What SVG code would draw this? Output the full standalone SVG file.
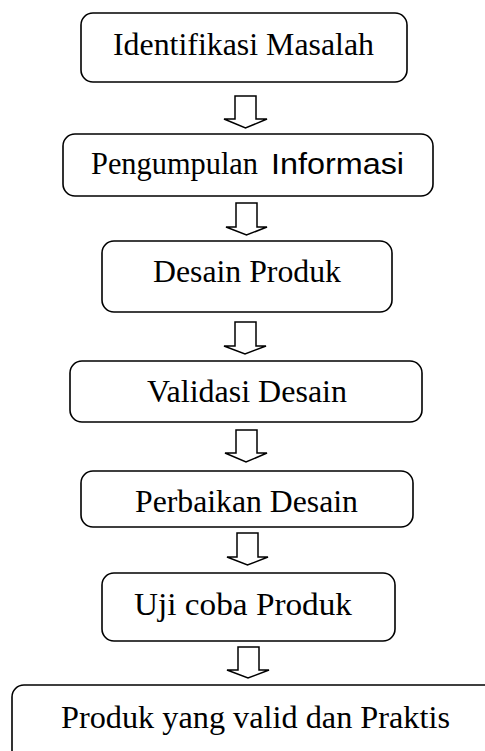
<svg xmlns="http://www.w3.org/2000/svg" width="485" height="751" viewBox="0 0 485 751">
<style>
.box{fill:#fff;stroke:#000;stroke-width:1.6}
.arr{fill:#fff;stroke:#000;stroke-width:1.5;stroke-linejoin:miter}
.t{font-family:"Liberation Serif","Times New Roman",serif;font-size:31px;fill:#000}
.s{font-family:"Liberation Sans",Arial,sans-serif;font-size:30px}
</style>
<rect width="485" height="751" fill="#fff"/>
<g id="connectors">
<polygon class="arr" points="235,96 256,96 256,119 267,119 245.5,128 224,119 235,119"/>
<polygon class="arr" points="236,203 257,203 257,227 267,227 246.5,235 226,227 236,227"/>
<polygon class="arr" points="235,322 256,322 256,346 266,346 245,354 224,346 235,346"/>
<polygon class="arr" points="236,430 257,430 257,453 267,453 246,462 225,453 236,453"/>
<polygon class="arr" points="237,533 258,533 258,557 268,557 247.5,565 227,557 237,557"/>
<polygon class="arr" points="238,647 259,647 259,670 269,670 248,678 227,670 238,670"/>
</g>
<g id="n1"><rect class="box" x="81" y="13" width="326" height="69" rx="12"/>
<text class="t" x="113" y="55" textLength="261" lengthAdjust="spacingAndGlyphs">Identifikasi Masalah</text></g>
<g id="n2"><rect class="box" x="63" y="134" width="370" height="62" rx="12"/>
<text class="t" x="91" y="174" textLength="167" lengthAdjust="spacingAndGlyphs">Pengumpulan</text>
<text class="t s" x="271" y="174" textLength="133" lengthAdjust="spacingAndGlyphs">Informasi</text></g>
<g id="n3"><rect class="box" x="102" y="241" width="290" height="71" rx="12"/>
<text class="t" x="153" y="282" textLength="188" lengthAdjust="spacingAndGlyphs">Desain Produk</text></g>
<g id="n4"><rect class="box" x="70" y="361" width="352" height="61" rx="12"/>
<text class="t" x="147" y="402" textLength="200" lengthAdjust="spacingAndGlyphs">Validasi Desain</text></g>
<g id="n5"><rect class="box" x="81" y="471" width="332" height="56" rx="12"/>
<text class="t" x="135" y="512" textLength="223" lengthAdjust="spacingAndGlyphs">Perbaikan Desain</text></g>
<g id="n6"><rect class="box" x="102" y="573" width="293" height="68" rx="12"/>
<text class="t" x="134" y="615" textLength="218" lengthAdjust="spacingAndGlyphs">Uji coba Produk</text></g>
<g id="n7"><rect class="box" x="12" y="685" width="490" height="100" rx="12"/>
<text class="t" x="61" y="728" textLength="389" lengthAdjust="spacingAndGlyphs">Produk yang valid dan Praktis</text></g>
</svg>
